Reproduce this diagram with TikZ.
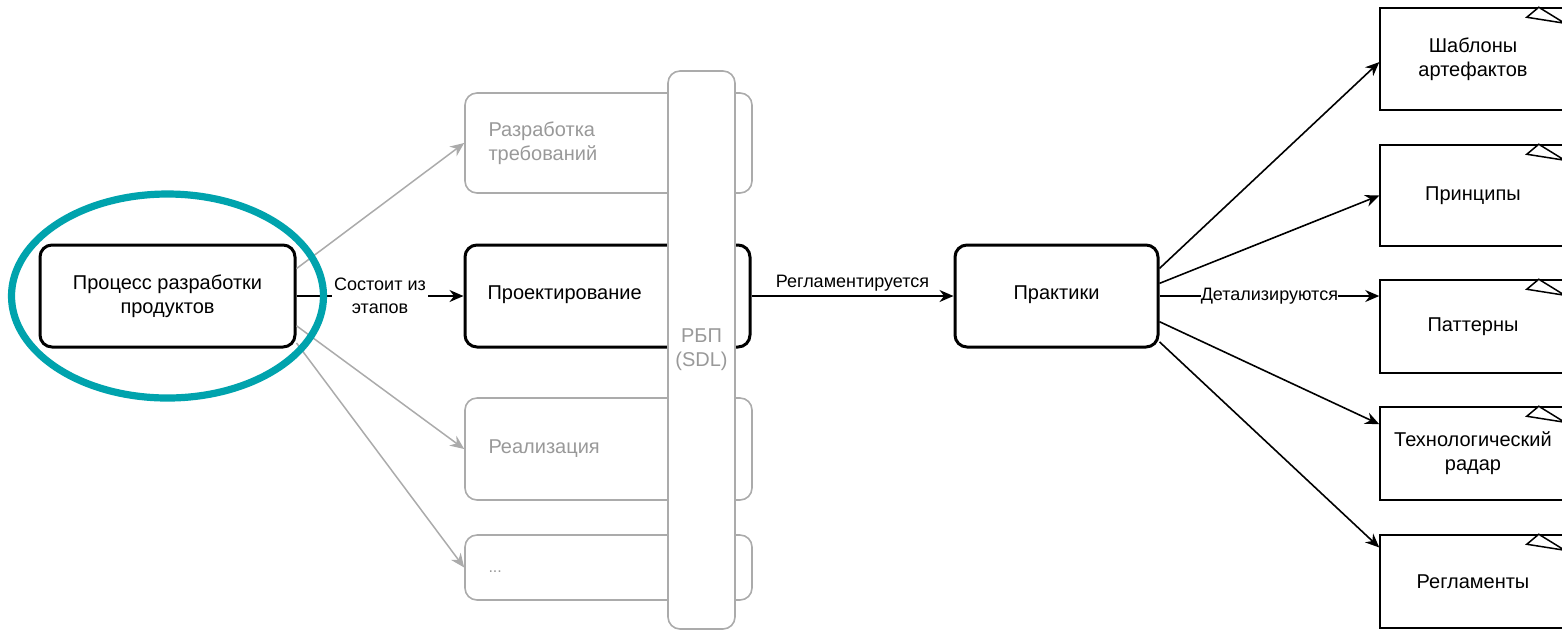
\documentclass[tikz,border=0pt]{standalone}
\usepackage{fontspec}
\setmainfont{Liberation Sans}
\usetikzlibrary{arrows.meta,calc}
\definecolor{teal1}{HTML}{00A3AD}
\definecolor{fadeline}{HTML}{ABABAB}
\definecolor{fadetext}{HTML}{999999}
\begin{document}
\begin{tikzpicture}[x=0.5pt,y=-0.5pt,
  font=\fontsize{10}{12}\selectfont,
  mainbox/.style={draw=black,line width=1.5pt,rounded corners=6pt,align=center,inner sep=0pt,fill=white},
  fadebox/.style={draw=fadeline,line width=0.8pt,rounded corners=6pt,text=fadetext,inner sep=0pt,align=left},
  notebox/.style={draw=black,line width=0.75pt,align=center,inner sep=0pt,minimum width=93pt},
  fold/.style={draw=black,line width=0.75pt,fill=white},
  arr/.style={-{Stealth[length=7pt,width=6pt]},line width=0.8pt},
  farr/.style={-{Stealth[length=7pt,width=6pt]},line width=0.75pt,draw=fadeline,color=fadeline},
  lbl/.style={font=\fontsize{9}{11.5}\selectfont,fill=white,inner sep=1pt,align=center}
]
\useasboundingbox (0,0) rectangle (1562,629);

% faded stage boxes
\node[fadebox,minimum width=143.5pt,minimum height=50pt,text width=120pt] (req) at (608.5,143) {Разработка\\требований};
\node[fadebox,minimum width=143.5pt,minimum height=51pt,text width=120pt] (real) at (608.5,449) {Реализация};
\node[fadebox,minimum width=143.5pt,minimum height=32.5pt,text width=120pt] (dots) at (608.5,567.5) {\raisebox{-2.5pt}[0pt][0pt]{\fontsize{8}{10}\selectfont ...}};

% main boxes
\node[mainbox,minimum width=127.5pt,minimum height=51pt] (proc) at (167.5,296) {Процесс разработки\\продуктов};
\node[mainbox,minimum width=142.5pt,minimum height=51pt,text width=120pt,align=left] (proj) at (607.5,296) {\raisebox{-1.5pt}[0pt][0pt]{Проектирование}};

% vertical bar
\node[draw=fadeline,line width=0.8pt,rounded corners=6pt,fill=white,text=fadetext,align=center,
      minimum width=33.5pt,minimum height=279pt,inner sep=0pt] (rbp) at (701.5,350) {РБП\\(SDL)};

\node[mainbox,minimum width=101.5pt,minimum height=51pt] (prac) at (1056.5,296) {\raisebox{-1.5pt}[0pt][0pt]{Практики}};

% note boxes
\node[notebox,minimum height=51pt] (tmpl) at (1473,59) {Шаблоны\\артефактов};
\node[notebox,minimum height=50.5pt] (princ) at (1473,195.5) {Принципы};
\node[notebox,minimum height=46.5pt] (pat) at (1473,326.5) {Паттерны};
\node[notebox,minimum height=46.5pt] (tech) at (1473,453.5) {Технологический\\радар};
\node[notebox,minimum height=46.5pt] (regl) at (1473,581.5) {Регламенты};
\foreach \n in {tmpl,princ,pat,tech,regl}{
  \draw[fold] ($(\n.north east)+(-28,0)$) -- ($(\n.north east)+(-40,10)$) -- ($(\n.north east)+(-2,16)$) -- cycle;
}

% faded connectors
\draw[farr] (proc.12) -- (req.west);
\draw[farr] (proc.-13) -- (real.west);
\draw[farr] (proc.-20) -- (dots.west);

% main connectors
\draw[arr] (proc.east) -- node[lbl] {Состоит из\\этапов} (proj.west);
\draw[arr] (proj.east) -- node[above=2pt,font=\fontsize{9}{11}\selectfont,inner sep=0pt] {Регламентируется} (prac.west);

\draw[arr] (prac.15) -- ($(tmpl.north west)!0.53!(tmpl.south west)$);
\draw[arr] (prac.7) -- (princ.west);
\draw[arr] (prac.east) -- node[lbl,inner sep=0pt] {Детализируются} (prac.east -| pat.west);
\draw[arr] (prac.-14) -- ($(tech.north west)!0.19!(tech.south west)$);
\draw[arr] (prac.-24) -- ($(regl.north west)!0.14!(regl.south west)$);

% highlight ellipse
\draw[teal1,line width=3.6pt] (proc.center) ellipse [x radius=156, y radius=102];
\end{tikzpicture}
\end{document}
